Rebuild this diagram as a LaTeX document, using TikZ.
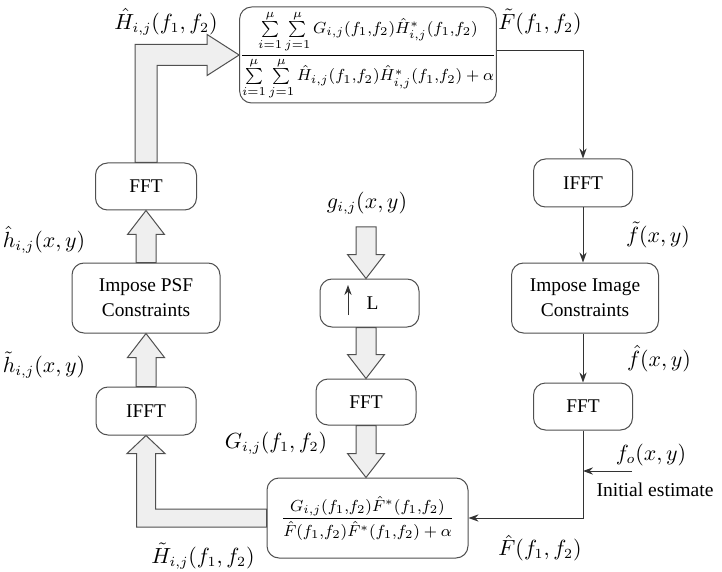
\documentclass[tikz,border=0pt]{standalone}
\usepackage{amsmath}
\usepackage[no-math]{fontspec}
\setmainfont{Liberation Serif}
\usetikzlibrary{arrows.meta,calc}
\definecolor{fatfill}{HTML}{EFEFEF}
\definecolor{edge}{HTML}{505050}
\tikzset{
 box/.style={draw=edge, line width=0.5pt, rounded corners=6pt, fill=white, align=center, inner sep=0pt,
   font=\fontsize{9.7}{12.5}\selectfont},
 formula/.style={font=\fontsize{8.4}{10}\selectfont},
 lbl/.style={font=\fontsize{10.5}{13}\selectfont, inner sep=0pt},
 fat/.style={draw=edge, fill=fatfill, line width=0.5pt, line join=miter},
 thinarrow/.style={draw=black!80, line width=0.5pt, -{Stealth[length=5pt,width=3.6pt]}},
}
\newcommand\ff{(f_1{,}f_2)}
\newcommand\fatvert[2]{%
 \draw[fat] let \p1=(#1), \p2=(#2), \n1={\y2-12*ifthenelse(\y2>\y1,1,-1)} in
 (\x1-5pt,\y1) -- (\x1-5pt,\n1*1pt) -- (\x1-9.25pt,\n1*1pt) -- (\x1,\y2)
 -- (\x1+9.25pt,\n1*1pt) -- (\x1+5pt,\n1*1pt) -- (\x1+5pt,\y1) -- cycle;}
\begin{document}
\begin{tikzpicture}[x=0.5pt,y=-0.5pt]
\useasboundingbox (0,0) rectangle (722,572);
% nodes
\node[box, formula, minimum width=127.5pt, minimum height=48pt] (top) at (368,55)
 {$\displaystyle\frac{\sum\limits_{i=1}^{\mu}\sum\limits_{j=1}^{\mu}G_{i,j}\ff\hat{H}^*_{i,j}\ff}
 {\sum\limits_{i=1}^{\mu}\sum\limits_{j=1}^{\mu}\hat{H}_{i,j}\ff\hat{H}^*_{i,j}\ff+\alpha}$};
\node[box, minimum width=50.5pt, minimum height=23.5pt] (fftL) at (146,186.5) {FFT};
\node[box, minimum width=74pt, minimum height=35pt] (psf) at (146,298) {Impose PSF\\Constraints};
\node[box, minimum width=50pt, minimum height=24pt] (ifftL) at (146,411) {IFFT};
\node[box, minimum width=49.5pt, minimum height=24pt] (L) at (369.5,303) {\hspace*{3pt}L};
\node[box, minimum width=50pt, minimum height=23pt] (fftC) at (366,402) {FFT};
\node[box, formula, minimum width=100.5pt, minimum height=40pt] (bot) at (367.5,518)
 {$\displaystyle\frac{G_{i,j}\ff\hat{F}^*\ff}{\hat{F}\ff\hat{F}^*\ff+\alpha}$};
\node[box, minimum width=49.5pt, minimum height=24pt] (ifftR) at (583,183) {IFFT};
\node[box, minimum width=73.5pt, minimum height=35pt] (imgR) at (585,298) {Impose Image\\Constraints};
\node[box, minimum width=49.5pt, minimum height=23.5pt] (fftR) at (583,406.5) {FFT};
% labels
\node[lbl] (lHhat) at (166,22) {$\hat{H}_{i,j}(f_1,f_2)$};
\node[lbl] (lFtil) at (540,22) {$\tilde{F}(f_1,f_2)$};
\node[lbl] (lftil) at (658,235) {$\tilde{f}(x,y)$};
\node[lbl] (lfhat) at (659,359) {$\hat{f}(x,y)$};
\node[lbl] (lfo) at (651,455) {$f_o(x,y)$};
\node[lbl, font=\fontsize{9.8}{12}\selectfont] (linit) at (655,490) {Initial estimate};
\node[lbl] (lFhat) at (540,548) {$\hat{F}(f_1,f_2)$};
\node[lbl] (lhhat) at (44,240) {$\hat{h}_{i,j}(x,y)$};
\node[lbl] (lhtil) at (44,365) {$\tilde{h}_{i,j}(x,y)$};
\node[lbl] (lHtil) at (203,556) {$\tilde{H}_{i,j}(f_1,f_2)$};
\node[lbl] (lG) at (276,443) {$G_{i,j}(f_1,f_2)$};
\node[lbl] (lg) at (367,203) {$g_{i,j}(x,y)$};
\coordinate (gs) at (366,227);
\coordinate (foS) at (632,471);
% fat arrows
\fatvert{psf.north}{fftL.south}
\fatvert{ifftL.north}{psf.south}
\fatvert{gs}{L.north}
\draw[fat] let \p1=(L.south), \p2=(fftC.north) in
 (\x2-5pt,\y1) -- (\x2-5pt,\y2+12pt) -- (\x2-9.25pt,\y2+12pt) -- (\x2,\y2)
 -- (\x2+9.25pt,\y2+12pt) -- (\x2+5pt,\y2+12pt) -- (\x2+5pt,\y1) -- cycle;
\fatvert{fftC.south}{bot.north}
\draw[fat] let \p1=(fftL.north), \p2=(top.west) in
 (\x1-5.5pt,\y1) -- (\x1-5.5pt,\y2+5.25pt) -- (\x2-16pt,\y2+5.25pt) -- (\x2-16pt,\y2+10.25pt)
 -- (\x2,\y2) -- (\x2-16pt,\y2-10.25pt) -- (\x2-16pt,\y2-5.25pt) -- (\x1+5.5pt,\y2-5.25pt)
 -- (\x1+5.5pt,\y1) -- cycle;
\draw[fat] let \p1=(bot.west), \p2=(ifftL.south) in
 (\x1,\y1+4.5pt) -- (\x2+4.75pt,\y1+4.5pt) -- (\x2+4.75pt,\y2-9pt) -- (\x2+9.5pt,\y2-9pt)
 -- (\x2,\y2) -- (\x2-9.5pt,\y2-9pt) -- (\x2-4.75pt,\y2-9pt) -- (\x2-4.75pt,\y1-4.5pt)
 -- (\x1,\y1-4.5pt) -- cycle;
% thin arrows
\draw[thinarrow] ([yshift=2pt]top.east) -| (ifftR.north);
\draw[thinarrow] (ifftR.south) -- (imgR.north -| ifftR.south);
\draw[thinarrow] (imgR.south -| fftR.north) -- (fftR.north);
\draw[thinarrow] (fftR.south) |- (bot.east);
\draw[thinarrow] (foS) -- (foS -| fftR.south);
\draw[thinarrow] ($(L.center)+(-10.75pt,-6pt)$) -- ($(L.center)+(-10.75pt,9pt)$);
\end{tikzpicture}
\end{document}
